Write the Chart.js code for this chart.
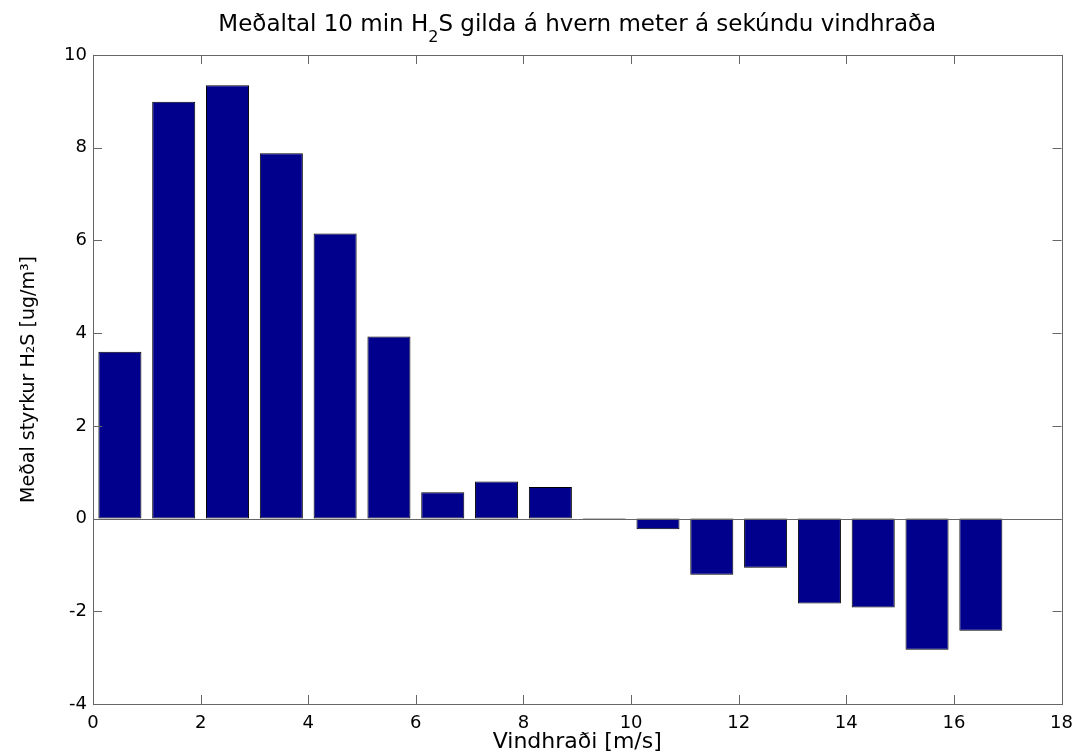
<!DOCTYPE html>
<html>
<head>
<meta charset="utf-8">
<title>H2S vindhraði</title>
<script src="https://cdn.jsdelivr.net/npm/chart.js@4.4.1/dist/chart.umd.min.js"></script>
<style>
  html, body { margin: 0; padding: 0; background: #fff; }
  #wrap { width: 1082px; height: 755px; }
</style>
</head>
<body>
<div id="wrap"><canvas id="h2sChart" width="1082" height="755"></canvas></div>
<script>
// bar centres (m/s) and mean H2S values
const windSpeed = [0.5, 1.5, 2.5, 3.5, 4.5, 5.5, 6.5, 7.5, 8.5, 9.5, 10.5, 11.5, 12.5, 13.5, 14.5, 15.5, 16.5];
const meanH2S = [3.6, 8.99, 9.35, 7.88, 6.15, 3.93, 0.57, 0.8, 0.68, -0.02, -0.23, -1.21, -1.06, -1.83, -1.92, -2.83, -2.42];
const xTicks = [0, 2, 4, 6, 8, 10, 12, 14, 16, 18];
const yTicks = [-4, -2, 0, 2, 4, 6, 8, 10];

// title pieces: [text, subscript?]
const titleParts = [['Meðaltal 10 min H', false], ['2', true], ['S gilda á hvern meter á sekúndu vindhraða', false]];

const axisColor = '#666666';
const textColor = '#000000';
const fontFamily = '"DejaVu Sans", Verdana, sans-serif';

// title centred over the plot area, with a real subscript
const titlePlugin = {
    id: 'titlePlugin',
    afterDraw(chart) {
        const { ctx, chartArea: a } = chart;
        const big = '23px ' + fontFamily;
        const small = '16px ' + fontFamily;
        ctx.save();
        ctx.fillStyle = textColor;
        ctx.textBaseline = 'alphabetic';
        ctx.textAlign = 'left';
        let total = 0;
        titleParts.forEach(p => {
            ctx.font = p[1] ? small : big;
            total += ctx.measureText(p[0]).width;
        });
        let x = (a.left + a.right) / 2 - total / 2;
        titleParts.forEach(p => {
            ctx.font = p[1] ? small : big;
            ctx.fillText(p[0], x, p[1] ? 42 : 31);
            x += ctx.measureText(p[0]).width;
        });
        ctx.restore();
    }
};

// MATLAB-style box with inward ticks and a baseline at zero
const boxPlugin = {
    id: 'boxPlugin',
    afterDatasetsDraw(chart) {
        const { ctx, chartArea: a, scales } = chart;
        const tick = 9;
        ctx.save();
        ctx.strokeStyle = axisColor;
        ctx.lineWidth = 1;

        // zero baseline
        const y0 = Math.round(scales.y.getPixelForValue(0)) + 0.5;
        ctx.beginPath();
        ctx.moveTo(a.left, y0);
        ctx.lineTo(a.right, y0);
        ctx.stroke();

        ctx.beginPath();
        xTicks.forEach(v => {
            const px = Math.round(scales.x.getPixelForValue(v)) + 0.5;
            ctx.moveTo(px, a.bottom); ctx.lineTo(px, a.bottom - tick);
            ctx.moveTo(px, a.top); ctx.lineTo(px, a.top + tick);
        });
        yTicks.forEach(v => {
            const py = Math.round(scales.y.getPixelForValue(v)) + 0.5;
            ctx.moveTo(a.left, py); ctx.lineTo(a.left + tick, py);
            ctx.moveTo(a.right, py); ctx.lineTo(a.right - tick, py);
        });
        ctx.stroke();

        ctx.strokeRect(Math.round(a.left) + 0.5, Math.round(a.top) + 0.5,
            Math.round(a.right - a.left), Math.round(a.bottom - a.top));
        ctx.restore();
    }
};

document.addEventListener('DOMContentLoaded', function () {
    const ctx = document.getElementById('h2sChart').getContext('2d');
    new Chart(ctx, {
        type: 'bar',
        data: {
            datasets: [{
                data: windSpeed.map((x, i) => ({ x: x, y: meanH2S[i] })),
                backgroundColor: '#00008c',
                borderColor: '#000000',
                borderWidth: 1,
                borderSkipped: false,
                barPercentage: 0.8,
                categoryPercentage: 1.0
            }]
        },
        options: {
            responsive: false,
            animation: false,
            devicePixelRatio: 1,
            layout: { padding: { left: 0, right: 19, top: 55, bottom: 0 } },
            plugins: {
                legend: { display: false },
                tooltip: { enabled: false },
                title: { display: false }
            },
            scales: {
                x: {
                    type: 'linear',
                    offset: false,
                    min: 0,
                    max: 18,
                    afterBuildTicks: scale => { scale.ticks = xTicks.map(v => ({ value: v })); },
                    afterFit: scale => { scale.height = 51; },
                    grid: { display: false, drawTicks: false },
                    border: { display: false },
                    ticks: {
                        color: textColor,
                        padding: 9,
                        maxRotation: 0,
                        font: { family: fontFamily, size: 18 }
                    },
                    title: {
                        display: true,
                        text: 'Vindhraði [m/s]',
                        color: textColor,
                        padding: { top: 0, bottom: 0 },
                        font: { family: fontFamily, size: 22 }
                    }
                },
                y: {
                    min: -4,
                    max: 10,
                    afterBuildTicks: scale => { scale.ticks = yTicks.map(v => ({ value: v })); },
                    afterFit: scale => { scale.width = 93; },
                    grid: { display: false, drawTicks: false },
                    border: { display: false },
                    ticks: {
                        color: textColor,
                        padding: 6,
                        font: { family: fontFamily, size: 18 }
                    },
                    title: {
                        display: true,
                        text: 'Meðal styrkur H₂S [ug/m³]',
                        color: textColor,
                        padding: { top: 18, bottom: 0 },
                        font: { family: fontFamily, size: 19 }
                    }
                }
            }
        },
        plugins: [boxPlugin, titlePlugin]
    });
});
</script>
</body>
</html>
